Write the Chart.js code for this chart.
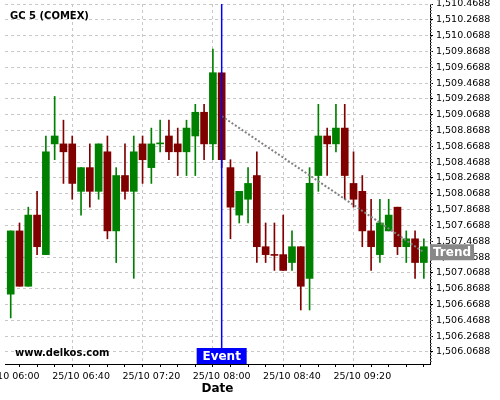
<!DOCTYPE html>
<html>
<head>
<meta charset="utf-8">
<script src="https://cdn.jsdelivr.net/npm/chart.js@4"></script>
<style>
  html, body { margin: 0; padding: 0; background: #fff; }
</style>
</head>
<body>
<canvas id="chart" width="500" height="400"></canvas>
<script>
// 5 minute candles, 25/10 06:00 - 09:55
var times = ['06:00','06:05','06:10','06:15','06:20','06:25','06:30','06:35',
             '06:40','06:45','06:50','06:55','07:00','07:05','07:10','07:15',
             '07:20','07:25','07:30','07:35','07:40','07:45','07:50','07:55',
             '08:00','08:05','08:10','08:15','08:20','08:25','08:30','08:35',
             '08:40','08:45','08:50','08:55','09:00','09:05','09:10','09:15',
             '09:20','09:25','09:30','09:35','09:40','09:45','09:50','09:55'];
var opens  = [1506.8,1507.6,1506.9,1507.8,1507.3,1508.7,1508.7,1508.7,
              1508.1,1508.4,1508.1,1508.6,1507.6,1508.3,1508.1,1508.7,
              1508.4,1508.7,1508.8,1508.7,1508.6,1508.8,1509.1,1508.7,
              1509.6,1508.4,1507.8,1508.0,1508.3,1507.4,1507.3,1507.3,
              1507.2,1507.4,1507.0,1508.3,1508.8,1508.7,1508.9,1508.2,
              1508.1,1507.6,1507.3,1507.6,1507.9,1507.4,1507.5,1507.2];
var highs  = [1507.6,1507.7,1507.9,1508.1,1508.8,1509.3,1509.0,1508.8,
              1508.4,1508.7,1508.7,1508.8,1508.4,1508.7,1508.8,1508.8,
              1508.9,1509.0,1509.0,1508.9,1509.0,1509.2,1509.2,1509.9,
              1509.6,1508.5,1508.1,1508.4,1508.6,1507.7,1507.7,1507.8,
              1507.6,1507.4,1508.4,1509.2,1508.9,1509.2,1509.2,1508.6,
              1508.3,1508.0,1508.0,1508.0,1507.9,1507.6,1507.6,1507.5];
var lows   = [1506.5,1506.9,1506.9,1507.3,1507.3,1508.5,1508.2,1508.0,
              1507.8,1507.9,1508.0,1507.5,1507.2,1508.0,1507.0,1508.2,
              1508.2,1508.6,1508.5,1508.3,1508.3,1508.3,1508.5,1508.5,
              1508.4,1507.5,1507.7,1507.7,1507.2,1507.2,1507.1,1507.1,
              1507.1,1506.6,1506.6,1508.1,1508.3,1508.6,1508.0,1507.9,
              1507.4,1507.1,1507.2,1507.6,1507.3,1507.2,1507.0,1507.0];
var closes = [1507.6,1506.9,1507.8,1507.4,1508.6,1508.8,1508.6,1508.2,
              1508.4,1508.1,1508.7,1507.6,1508.3,1508.1,1508.6,1508.5,
              1508.7,1508.71,1508.6,1508.6,1508.9,1509.1,1508.7,1509.6,
              1508.5,1507.9,1508.1,1508.2,1507.4,1507.3,1507.29,1507.1,
              1507.4,1506.9,1508.2,1508.8,1508.7,1508.9,1508.3,1508.0,
              1507.6,1507.4,1507.7,1507.8,1507.4,1507.5,1507.2,1507.4];

var trendIdx = [24, 47];
var trendVal = [1509.05, 1507.33];
var eventIdx = 24;

var yTicks = [1506.0688,1506.2688,1506.4688,1506.6688,1506.8688,1507.0688,1507.2688,
              1507.4688,1507.6688,1507.8688,1508.0688,1508.2688,1508.4688,1508.6688,
              1508.8688,1509.0688,1509.2688,1509.4688,1509.6688,1509.8688,1510.0688,
              1510.2688,1510.4688];
var xTickIdx = [0, 8, 16, 24, 32, 40];
var xTickLabels = ['25/10 06:00','25/10 06:40','25/10 07:20','25/10 08:00','25/10 08:40','25/10 09:20'];

var UP = '#008000', DOWN = '#800000';
var FONT = 'DejaVu Sans';

function candleColor(i) {
  return closes[i] >= opens[i] ? UP : DOWN;
}
function fmt(v) {
  return v.toLocaleString('en-US', {minimumFractionDigits: 4, maximumFractionDigits: 4});
}

var bodies = [], wicks = [], colors = [];
times.forEach(function(t, i) {
  bodies.push({x: i, y: [opens[i], closes[i]]});
  wicks.push({x: i, y: [lows[i], highs[i]]});
  colors.push(candleColor(i));
});

// texts + event/trend markers
var overlay = {
  id: 'overlay',
  afterDatasetsDraw: function(chart) {
    var ctx = chart.ctx, a = chart.chartArea;
    var xs = chart.scales.x;
    var ex = xs.getPixelForValue(eventIdx);
    ctx.save();
    ctx.strokeStyle = '#0000ff';
    ctx.lineWidth = 1.5;
    ctx.beginPath();
    ctx.moveTo(ex, a.top);
    ctx.lineTo(ex, a.bottom);
    ctx.stroke();

    ctx.fillStyle = '#000';
    ctx.font = 'bold 10px ' + FONT;
    ctx.textBaseline = 'middle';
    ctx.textAlign = 'left';
    ctx.fillText('www.delkos.com', 15, 353);

    ctx.fillStyle = '#0000ff';
    ctx.fillRect(ex - 25, a.bottom - 16, 50, 16);
    ctx.fillStyle = '#fff';
    ctx.font = 'bold 12px ' + FONT;
    ctx.textAlign = 'center';
    ctx.fillText('Event', ex, a.bottom - 7.5);
    ctx.restore();
  },
  afterDraw: function(chart) {
    var ctx = chart.ctx, a = chart.chartArea;
    var ys = chart.scales.y;
    ctx.save();
    // minor ticks on the price axis
    ctx.strokeStyle = '#777';
    ctx.lineWidth = 1;
    for (var v = yTicks[0] - 0.16; v <= ys.max + 0.001; v += 0.04) {
      var py = Math.round(ys.getPixelForValue(v)) + 0.5;
      if (py < a.top || py > a.bottom) continue;
      ctx.beginPath();
      ctx.moveTo(a.right, py);
      ctx.lineTo(a.right + 2, py);
      ctx.stroke();
    }

    ctx.fillStyle = '#000';
    ctx.font = 'bold 10px ' + FONT;
    ctx.textAlign = 'left';
    ctx.textBaseline = 'middle';
    ctx.fillText('GC 5 (COMEX)', 10, 16);

    var ty = ys.getPixelForValue(trendVal[1]);
    ctx.fillStyle = '#888888';
    ctx.fillRect(a.right, ty - 8, 44, 16);
    ctx.fillStyle = '#fff';
    ctx.font = 'bold 12px ' + FONT;
    ctx.textAlign = 'center';
    ctx.fillText('Trend', a.right + 22, ty + 0.5);
    ctx.restore();
  }
};

new Chart(document.getElementById('chart'), {
  type: 'bar',
  data: {
    datasets: [{
      type: 'line',
      data: [{x: trendIdx[0], y: trendVal[0]}, {x: trendIdx[1], y: trendVal[1]}],
      borderColor: '#808080',
      borderWidth: 2,
      borderDash: [2, 2],
      pointRadius: 0,
      order: 0
    }, {
      data: bodies,
      backgroundColor: colors,
      barThickness: 7,
      minBarLength: 1,
      grouped: false,
      order: 1
    }, {
      data: wicks,
      backgroundColor: colors,
      barThickness: 1,
      grouped: false,
      order: 2
    }]
  },
  options: {
    responsive: false,
    animation: false,
    layout: { padding: { top: 4, left: 5, right: 0, bottom: 0 } },
    plugins: { legend: { display: false }, tooltip: { enabled: false } },
    scales: {
      x: {
        type: 'linear',
        min: -0.65,
        max: 47.7,
        offset: false,
        afterBuildTicks: function(s) {
          var t = [];
          for (var i = 0; i < times.length; i += 2) t.push({value: i});
          s.ticks = t;
        },
        afterFit: function(s) {
          s.height = 36;
          s.paddingLeft = 0;
          s.paddingRight = 0;
        },
        ticks: {
          autoSkip: false,
          maxRotation: 0,
          padding: 4,
          color: '#000',
          font: { family: FONT, size: 9.5 },
          callback: function(v) {
            var k = xTickIdx.indexOf(v);
            return k >= 0 ? xTickLabels[k] : '';
          }
        },
        grid: {
          color: function(c) {
            return c.tick && xTickIdx.indexOf(c.tick.value) >= 0 ? '#c8c8c8' : 'rgba(0,0,0,0)';
          },
          tickColor: '#000',
          tickLength: 3
        },
        border: { display: true, color: '#000', width: 1, dash: [3, 3] },
        title: {
          display: true,
          text: 'Date',
          color: '#000',
          font: { family: FONT, size: 12, weight: 'bold' },
          padding: { top: 0, bottom: 4 }
        }
      },
      y: {
        position: 'right',
        min: 1505.917,
        max: 1510.4688,
        afterBuildTicks: function(s) {
          s.ticks = yTicks.map(function(v) { return {value: v}; });
        },
        afterFit: function(s) {
          s.width = 70;
          s.paddingTop = 0;
          s.paddingBottom = 0;
        },
        ticks: {
          autoSkip: false,
          padding: 3,
          color: '#000',
          font: { family: FONT, size: 9.5 },
          callback: function(v) { return fmt(v); }
        },
        grid: { color: '#c8c8c8', tickColor: '#000', tickLength: 3 },
        border: { display: true, color: '#000', width: 1, dash: [3, 3] }
      }
    }
  },
  plugins: [overlay]
});
</script>
</body>
</html>
